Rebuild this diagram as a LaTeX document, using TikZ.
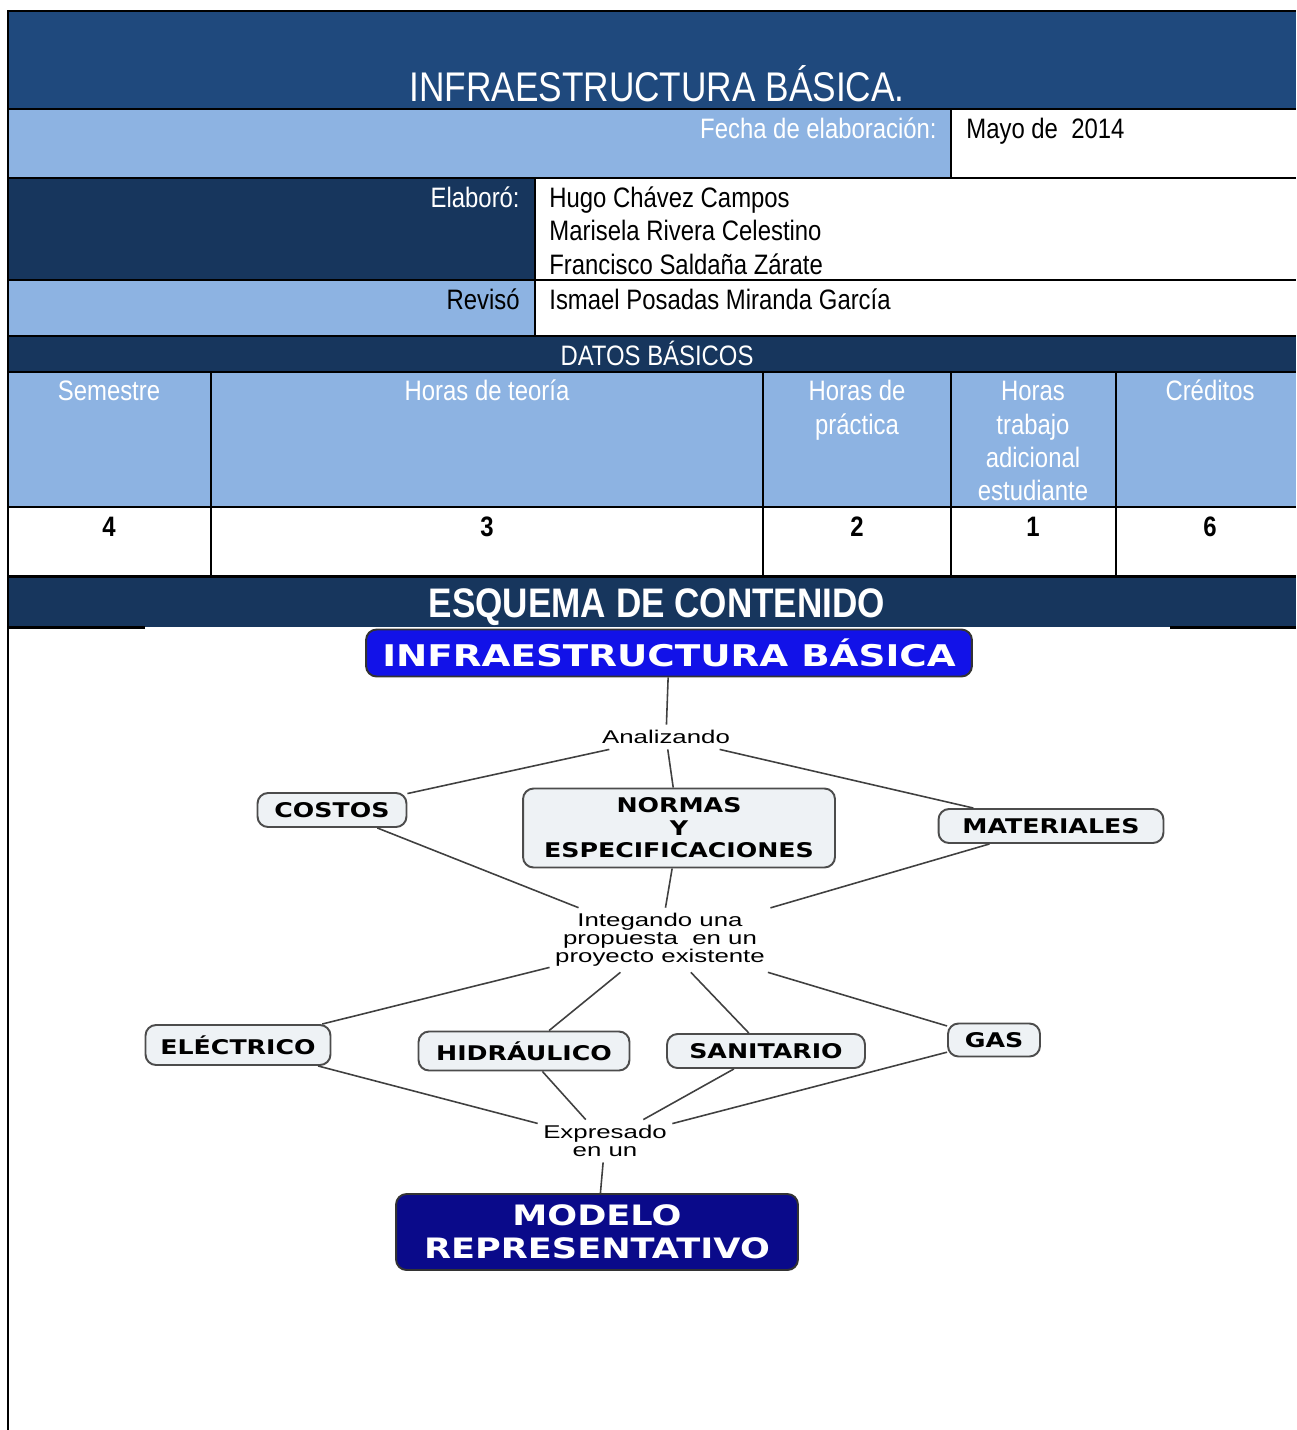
\documentclass[tikz,border=0pt]{standalone}
\usepackage{fontspec}
\setmainfont[FakeStretch=0.85]{Liberation Sans}
\newfontfamily\mapfont[FakeStretch=1.25]{DejaVu Sans}
\newfontfamily\linkfont[FakeStretch=1.4]{Liberation Sans}
\definecolor{titleblue}{RGB}{31,73,125}
\definecolor{navy}{RGB}{23,54,93}
\definecolor{lightblue}{RGB}{141,179,226}
\definecolor{mapblue}{RGB}{18,18,232}
\definecolor{mapnavy}{RGB}{10,10,138}
\definecolor{boxgray}{RGB}{238,242,245}

\begin{document}
\begin{tikzpicture}[x=0.02cm,y=-0.02cm]
\tikzstyle{cell}=[inner sep=0pt, font=\fontsize{16}{16}\selectfont]
\tikzstyle{thick rule}=[line width=1.7pt]
\tikzstyle{thin rule}=[line width=0.9pt]
\tikzstyle{concept}=[rounded corners=6pt, draw=black!70, line width=1.1pt, fill=boxgray,
                        inner sep=2pt, align=center, font=\mapfont\bfseries\fontsize{11.5}{12.8}\selectfont]
\tikzstyle{bigconcept}=[concept, draw=black!80, fill=mapblue, text=white,
                        font=\mapfont\bfseries\fontsize{17}{20}\selectfont]
\tikzstyle{link}=[inner sep=3pt, align=center, font=\linkfont\fontsize{10.5}{10.3}\selectfont]
\tikzstyle{conn}=[draw=black!75, line width=0.9pt]
	\useasboundingbox (0,0) rectangle (1296,1430);
% cell fills
	\fill[titleblue] (8,11) rectangle (1296,109);
	\fill[lightblue] (8,109) rectangle (951,178);
	\fill[navy] (8,178) rectangle (535,280);
	\fill[lightblue] (8,280) rectangle (535,336);
	\fill[navy] (8,336) rectangle (1296,372);
	\fill[lightblue] (8,372) rectangle (1296,507);
	\fill[navy] (8,576) rectangle (1296,627);
% rules
\draw[thick rule] (8,11)--(1296,11) (8,109)--(1296,109) (8,178)--(1296,178) (8,280)--(1296,280)
	(8,336)--(1296,336) (8,372)--(1296,372) (8,507)--(1296,507) (8,576)--(1296,576)
	(8,627)--(145,627) (1170,627)--(1296,627) (8,10)--(8,1430);
\draw[thin rule] (951,109)--(951,178) (535,178)--(535,336)
	(211,372)--(211,576) (763,372)--(763,576) (951,372)--(951,576) (1116,372)--(1116,576);
% table text
	\node[cell, anchor=base, text=white, font=\fontsize{23.6}{24}\selectfont] (ttl) at (657,101) {INFRAESTRUCTURA BÁSICA.};
	\node[cell, anchor=base east, text=white] (fecha) at (937,138) {Fecha de elaboración:};
	\node[cell, anchor=base west] (mayo) at (966,138) {Mayo de\ \ 2014};
	\node[cell, anchor=base east, text=white] (elab) at (520,207) {Elaboró:};
	\node[cell, anchor=base west] (nom1) at (549,207) {Hugo Chávez Campos};
	\node[cell, anchor=base west] (nom2) at (549,240) {Marisela Rivera Celestino};
	\node[cell, anchor=base west] (nom3) at (549,274) {Francisco Saldaña Zárate};
	\node[cell, anchor=base east] (rev) at (520,309) {Revisó};
	\node[cell, anchor=base west] (revnom) at (549,309) {Ismael Posadas Miranda García};
	\node[cell, anchor=base, text=white] (datos) at (657,365) {DATOS BÁSICOS};
	\node[cell, anchor=base, text=white] (hsem) at (109,400) {Semestre};
	\node[cell, anchor=base, text=white] (hteo) at (487,400) {Horas de teoría};
	\node[cell, anchor=base, text=white] (hpra1) at (857,400) {Horas de};
	\node[cell, anchor=base, text=white] (hpra2) at (857,434) {práctica};
	\node[cell, anchor=base, text=white] (htra1) at (1033,400) {Horas};
	\node[cell, anchor=base, text=white] (htra2) at (1033,434) {trabajo};
	\node[cell, anchor=base, text=white] (htra3) at (1033,467) {adicional};
	\node[cell, anchor=base, text=white] (htra4) at (1033,500) {estudiante};
	\node[cell, anchor=base, text=white] (hcre) at (1210,400) {Créditos};
	\node[cell, anchor=base, font=\bfseries\fontsize{16}{16}\selectfont] (vsem) at (109,536) {4};
	\node[cell, anchor=base, font=\bfseries\fontsize{16}{16}\selectfont] (vteo) at (487,536) {3};
	\node[cell, anchor=base, font=\bfseries\fontsize{16}{16}\selectfont] (vpra) at (857,536) {2};
	\node[cell, anchor=base, font=\bfseries\fontsize{16}{16}\selectfont] (vtra) at (1033,536) {1};
	\node[cell, anchor=base, font=\bfseries\fontsize{16}{16}\selectfont] (vcre) at (1210,536) {6};
	\node[cell, anchor=base, text=white, font=\bfseries\fontsize{23.5}{24}\selectfont] (esq) at (657,617) {ESQUEMA DE CONTENIDO};
% concept map
	\node[bigconcept, minimum width=12.12cm, minimum height=0.94cm] (infra) at (669,653) {INFRAESTRUCTURA BÁSICA};
	\node[link] (anl) at (666,737) {Analizando};
	\node[concept, minimum width=2.98cm, minimum height=0.68cm] (costos) at (332,810) {COSTOS};
	\node[concept, minimum width=6.24cm, minimum height=1.58cm] (normas) at (679,828) {NORMAS\\Y\\ESPECIFICACIONES};
	\node[concept, minimum width=4.5cm, minimum height=0.68cm] (mat) at (1051,826) {MATERIALES};
	\node[link] (integ) at (660,940) {Integando una\\propuesta\ \ en un\\proyecto existente};
	\node[concept, minimum width=3.7cm, minimum height=0.8cm] (elec) at (238,1045) {ELÉCTRICO};
	\node[concept, minimum width=4.22cm, minimum height=0.78cm] (hidr) at (524,1051) {HIDRÁULICO};
	\node[concept, minimum width=3.96cm, minimum height=0.68cm] (san) at (766,1051) {SANITARIO};
	\node[concept, minimum width=1.84cm, minimum height=0.66cm] (gas) at (994,1040) {GAS};
	\node[link] (expr) at (605,1141) {Expresado\\en un};
	\node[bigconcept, fill=mapnavy, minimum width=8.04cm, minimum height=1.52cm,
		font=\mapfont\bfseries\fontsize{16}{19}\selectfont] (modelo) at (597,1232) {MODELO\\REPRESENTATIVO};
\draw[conn] (infra)--(anl) (anl)--(costos) (anl)--(normas) (anl)--(mat);
\draw[conn] (costos)--(integ) (normas)--(integ) (mat)--(integ);
\draw[conn] (integ)--(elec) (integ)--(hidr) (integ)--(san) (integ)--(gas);
\draw[conn] (elec)--(expr) (hidr)--(expr) (san)--(expr) (gas)--(expr) (expr)--(modelo);
\end{tikzpicture}
\end{document}
